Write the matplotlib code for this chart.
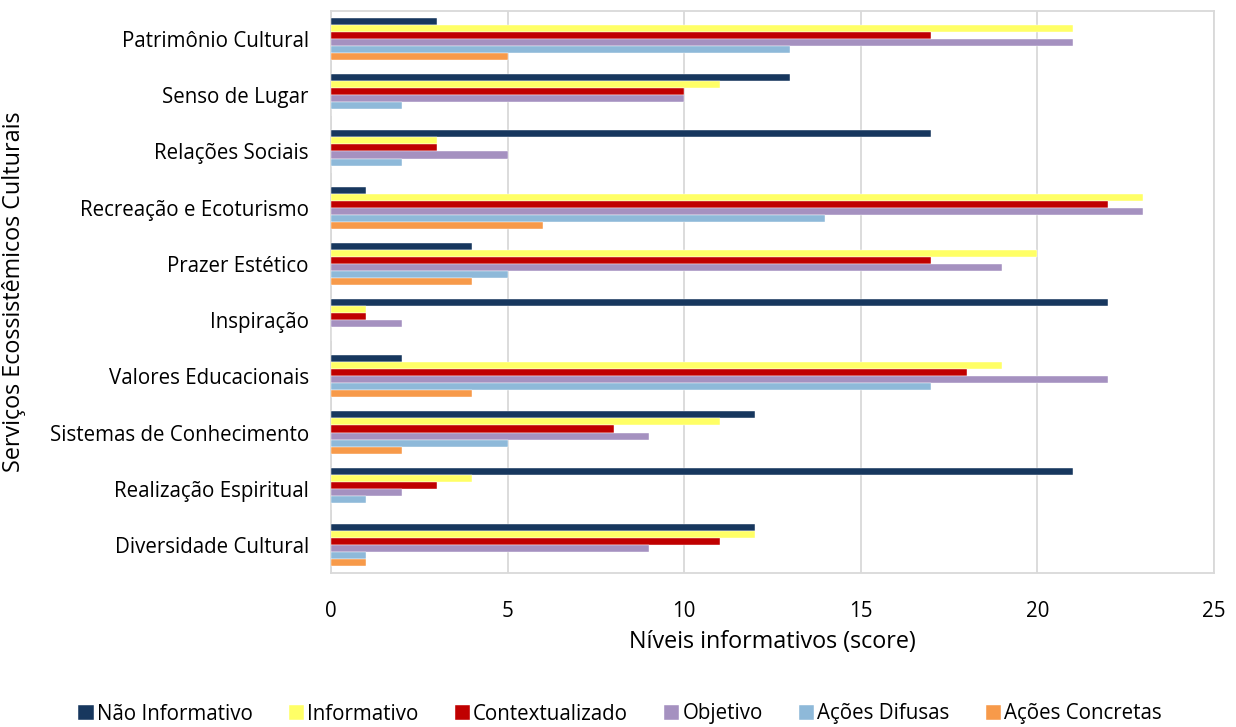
import matplotlib
matplotlib.use("Agg")
import matplotlib.pyplot as plt
import numpy as np

categories = [
    "Patrimônio Cultural",
    "Senso de Lugar",
    "Relações Sociais",
    "Recreação e Ecoturismo",
    "Prazer Estético",
    "Inspiração",
    "Valores Educacionais",
    "Sistemas de Conhecimento",
    "Realização Espiritual",
    "Diversidade Cultural",
]

series_names = ["Não Informativo", "Informativo", "Contextualizado",
                "Objetivo", "Ações Difusas", "Ações Concretas"]

nao_informativo = [3, 13, 17, 1, 4, 22, 2, 12, 21, 12]
informativo = [21, 11, 3, 23, 20, 1, 19, 11, 4, 12]
contextualizado = [17, 10, 3, 22, 17, 1, 18, 8, 3, 11]
objetivo = [21, 10, 5, 23, 19, 2, 22, 9, 2, 9]
acoes_difusas = [13, 2, 2, 14, 5, 0, 17, 5, 1, 1]
acoes_concretas = [5, 0, 0, 6, 4, 0, 4, 2, 0, 1]

series_values = [nao_informativo, informativo, contextualizado,
                 objetivo, acoes_difusas, acoes_concretas]
colors = ["#17375E", "#FFFF66", "#C00000", "#A591C0", "#8EB9D9", "#F79A4A"]

plt.rcParams["font.family"] = ["Open Sans", "DejaVu Sans"]
FS = 14.8
TITLE_FS = 16.8

fig = plt.figure(figsize=(12.36, 7.27), dpi=100)
ax = fig.add_axes([0.2678, 0.2118, 0.7144, 0.7731])

n = len(series_names)
bar_h = 0.125
y = np.arange(len(categories))
for i, (name, vals, c) in enumerate(zip(series_names, series_values, colors)):
    offset = (i - (n - 1) / 2) * bar_h
    ax.barh(y + offset, vals, height=bar_h, color=c, label=name,
            edgecolor="white", linewidth=0.3, zorder=3)

ax.set_ylim(len(categories) - 0.5, -0.5)
ax.set_xlim(0, 25)
ax.set_xticks(np.arange(0, 26, 5))
ax.set_yticks(y)
ax.set_yticklabels(categories, fontsize=FS, color="#000000")
ax.tick_params(axis="x", labelsize=FS, length=0, pad=20)
ax.tick_params(axis="y", length=0, pad=16)
ax.grid(axis="x", color="#D9D9D9", linewidth=1.3, zorder=0)
for s in ax.spines.values():
    s.set_color("#D9D9D9")
    s.set_linewidth(1.3)

fig.text(772 / 1236, 1 - 642 / 727, "Níveis informativos (score)",
         ha="center", va="center", fontsize=TITLE_FS)
fig.text(14 / 1236, 1 - 292 / 727, "Serviços Ecossistêmicos Culturais",
         rotation=90, ha="center", va="center", fontsize=TITLE_FS)

fig.legend(loc="center", bbox_to_anchor=(620 / 1236, 1 - 714 / 727), ncol=6,
           frameon=False, fontsize=FS, handlelength=0.75, handleheight=0.75,
           handletextpad=0.15, columnspacing=1.75)

fig.savefig("out.png", dpi=100)
